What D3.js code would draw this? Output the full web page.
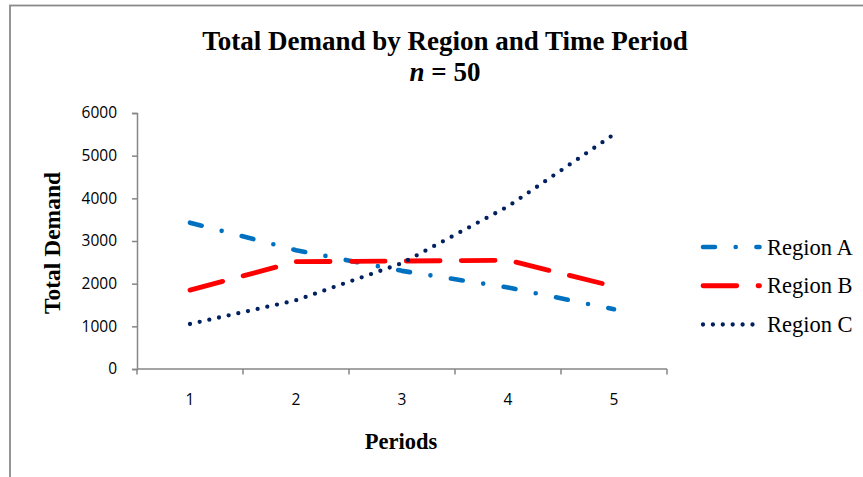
<!DOCTYPE html>
<html>
<head>
<meta charset="utf-8">
<script src="https://cdn.jsdelivr.net/npm/d3@7"></script>
<style>
  html, body { margin: 0; padding: 0; background: #ffffff; }
  svg { display: block; }
</style>
</head>
<body>
<svg id="chart" width="863" height="477"></svg>
<script>
// Demand totals per region across the five time periods
const periods = ["1", "2", "3", "4", "5"];
const regionA = [3430, 2785, 2300, 1910, 1400];
const regionB = [1850, 2515, 2530, 2550, 1935];
const regionC = [1055, 1610, 2480, 3810, 5500];
const yTicks = [0, 1000, 2000, 3000, 4000, 5000, 6000];
const seriesNames = ["Region A", "Region B", "Region C"];

const series = [
  { name: seriesNames[0], values: regionA, color: "#0070C0", width: 4.6, dash: "12 20.7 0 20.7" },
  { name: seriesNames[1], values: regionB, color: "#FF0000", width: 4.8, dash: "33.8 21.2" },
  { name: seriesNames[2], values: regionC, color: "#002060", width: 4.3, dash: "0 9.9" }
];

const svg = d3.select("#chart");
const serif = "'Liberation Serif', 'Times New Roman', serif";
const sans = "'Open Sans', 'DejaVu Sans', sans-serif";
const axisGrey = "#868686";

// outer chart frame (runs past the right and bottom edges)
svg.append("rect")
  .attr("x", 10).attr("y", 5.5)
  .attr("width", 900).attr("height", 500)
  .attr("fill", "#ffffff")
  .attr("stroke", "#8a8a8a").attr("stroke-width", 1.8);

const plot = { left: 137, right: 667, top: 113, bottom: 369 };

const x = d3.scaleBand().domain(periods).range([plot.left, plot.right]).paddingInner(0).paddingOuter(0);
const y = d3.scaleLinear().domain([0, 6000]).range([plot.bottom, plot.top]);

// title
const title = svg.append("text")
  .attr("text-anchor", "middle")
  .attr("font-family", serif)
  .attr("font-weight", "bold")
  .attr("fill", "#000");
title.append("tspan").attr("x", 445).attr("y", 50).attr("font-size", 27)
  .text("Total Demand by Region and Time Period");
const sub = title.append("tspan").attr("x", 445).attr("y", 81).attr("font-size", 27);
sub.append("tspan").attr("font-style", "italic").text("n");
sub.append("tspan").text(" = 50");

// y axis
const yAxis = svg.append("g")
  .attr("transform", `translate(${plot.left},0)`)
  .call(d3.axisLeft(y).tickValues(yTicks).tickSize(5).tickPadding(15).tickFormat(d3.format("d")));
yAxis.select(".domain").attr("stroke", axisGrey).attr("stroke-width", 1.5);
yAxis.selectAll(".tick line").attr("stroke", axisGrey).attr("stroke-width", 1.5);
yAxis.selectAll(".tick text")
  .attr("font-family", sans).attr("font-size", 15.5).attr("fill", "#000");

// x axis: ticks sit on the category boundaries, labels in the band centres
const xAxis = svg.append("g")
  .attr("transform", `translate(0,${plot.bottom})`)
  .call(d3.axisBottom(x).tickSize(0).tickPadding(25));
xAxis.select(".domain").attr("stroke", axisGrey).attr("stroke-width", 1.5)
  .attr("d", `M${plot.left},0H${plot.right}`);
xAxis.selectAll(".tick text")
  .attr("font-family", sans).attr("font-size", 15.5).attr("fill", "#000");
const boundaries = periods.map(p => x(p)).concat([x(periods[periods.length - 1]) + x.bandwidth()]);
xAxis.selectAll("line.boundary")
  .data(boundaries)
  .join("line")
  .attr("class", "boundary")
  .attr("x1", d => d).attr("x2", d => d)
  .attr("y1", 0).attr("y2", 5.5)
  .attr("stroke", axisGrey).attr("stroke-width", 1.5);

// axis titles
svg.append("text")
  .attr("transform", `translate(60,243) rotate(-90)`)
  .attr("text-anchor", "middle")
  .attr("font-family", serif).attr("font-weight", "bold").attr("font-size", 23.5)
  .text("Total Demand");

svg.append("text")
  .attr("x", 401).attr("y", 449)
  .attr("text-anchor", "middle")
  .attr("font-family", serif).attr("font-weight", "bold").attr("font-size", 22.5)
  .text("Periods");

// series lines
const line = d3.line()
  .x((d, i) => x(periods[i]) + x.bandwidth() / 2)
  .y(d => y(d));

svg.append("g").selectAll("path")
  .data(series)
  .join("path")
  .attr("d", d => line(d.values))
  .attr("fill", "none")
  .attr("stroke", d => d.color)
  .attr("stroke-width", d => d.width)
  .attr("stroke-dasharray", d => d.dash)
  .attr("stroke-linecap", "round")
  .attr("stroke-linejoin", "round");

// legend
const legend = svg.append("g");
const legendY = d3.scalePoint().domain(seriesNames).range([247, 324.5]);
const items = legend.selectAll("g")
  .data(series)
  .join("g")
  .attr("transform", d => `translate(0,${legendY(d.name)})`);
items.append("line")
  .attr("x1", 703).attr("x2", 759.5)
  .attr("y1", 0).attr("y2", 0)
  .attr("stroke", d => d.color)
  .attr("stroke-width", d => d.width)
  .attr("stroke-dasharray", d => d.dash)
  .attr("stroke-linecap", "round");
items.append("text")
  .attr("x", 767).attr("y", 7.5)
  .attr("font-family", serif).attr("font-size", 22.5).attr("fill", "#000")
  .text(d => d.name);
</script>
</body>
</html>
